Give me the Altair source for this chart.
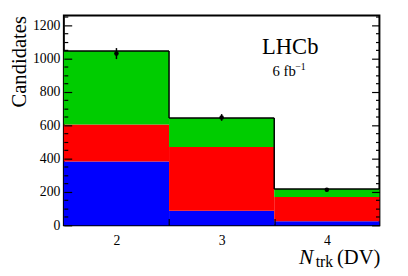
import altair as alt
import pandas as pd

# bins
centers = [2, 3, 4]
lo_edges = [1.5, 2.5, 3.5]
hi_edges = [2.5, 3.5, 4.5]
# stacked components (bottom -> top)
blue_vals = [383, 88, 24]
red_vals = [222, 382, 146]
green_vals = [440, 173, 48]
# data points
data_vals = [1030, 647, 213]
data_err = [33, 20, 10]

y_major = [0, 200, 400, 600, 800, 1000, 1200]
y_minor = [v for v in range(0, 1260, 50) if v % 200 != 0]
x_ticks = [2.5, 3.5]

W, H = 322, 214
FONT = "Liberation Serif"

rows = []
for i in range(3):
    b0 = 0
    for name, vals in [("blue", blue_vals), ("red", red_vals), ("green", green_vals)]:
        rows.append(dict(lo=lo_edges[i], hi=hi_edges[i], y0=b0, y1=b0 + vals[i], comp=name))
        b0 += vals[i]
bars = pd.DataFrame(rows)
totals = [blue_vals[i] + red_vals[i] + green_vals[i] for i in range(3)]

xs = alt.Scale(domain=[1.5, 4.5], nice=False, zero=False)
ys = alt.Scale(domain=[0, 1258], nice=False)


def tick_axis(orient, values, size, labels=False, **kw):
    return alt.Axis(orient=orient, values=values, tickSize=size, offset=-size, labels=labels,
                    domain=False, grid=False, tickColor="black", tickWidth=1.2, zindex=2,
                    labelOverlap=False, **kw)


rect = alt.Chart(bars).mark_rect(stroke=None).encode(
    x=alt.X("lo:Q", scale=xs, axis=alt.Axis(orient="bottom", values=centers, format="d", ticks=False,
                                           domain=False, grid=False, labelPadding=9, labelFontSize=14,
                                           title=None, labelOverlap=False, zindex=2)),
    x2="hi:Q",
    y=alt.Y("y0:Q", scale=ys, axis=tick_axis("left", y_major, 8, labels=True, format="d",
                                             labelPadding=4, labelFontSize=14,
                                             title="Candidates", titleFontSize=21, titleFontWeight="normal",
                                             titleAngle=270, titleAlign="right", titleBaseline="alphabetic",
                                             titleX=-47, titleY=0)),
    y2="y1:Q",
    color=alt.Color("comp:N", scale=alt.Scale(domain=["blue", "red", "green"],
                                              range=["#0000ff", "#ff0000", "#00cc00"]), legend=None),
)

tot_df = pd.DataFrame(dict(lo=lo_edges, hi=hi_edges, tot=totals))
hrules = alt.Chart(tot_df).mark_rule(color="black", strokeWidth=1.5).encode(
    x=alt.X("lo:Q", scale=xs, axis=tick_axis("bottom", x_ticks, 7, title=None)),
    x2="hi:Q",
    y=alt.Y("tot:Q", scale=ys, axis=tick_axis("left", y_minor, 4, title=None)))
vdf = pd.DataFrame(dict(e=hi_edges[:2], a=totals[:2], b=totals[1:]))
vrules = alt.Chart(vdf).mark_rule(color="black", strokeWidth=1.5).encode(
    x=alt.X("e:Q", scale=xs, axis=None),
    y=alt.Y("a:Q", scale=ys, axis=tick_axis("right", y_major, 8, title=None)),
    y2="b:Q")

pts_df = pd.DataFrame(dict(x=centers, y=data_vals, lo=[v - e for v, e in zip(data_vals, data_err)],
                           hi=[v + e for v, e in zip(data_vals, data_err)]))
err = alt.Chart(pts_df).mark_rule(color="black", strokeWidth=1.5).encode(
    x=alt.X("x:Q", scale=xs, axis=None),
    y=alt.Y("lo:Q", scale=ys, axis=tick_axis("right", y_minor, 4, title=None)),
    y2="hi:Q")
pts = alt.Chart(pts_df).mark_point(filled=True, color="black", size=22, opacity=1).encode(
    x=alt.X("x:Q", scale=xs, axis=None), y=alt.Y("y:Q", scale=ys, axis=None))


def label(txt, size, x, y, align="left", style="normal"):
    return alt.Chart(pd.DataFrame(dict(t=[txt]))).mark_text(
        font=FONT, fontSize=size, fontStyle=style, color="black", align=align, baseline="alphabetic"
    ).encode(text="t:N", x=alt.value(x), y=alt.value(y))


lhcb = label("LHCb", 23, 231, 39, align="center")
lum1 = label("6 fb", 15, 213, 62)
lum2 = label("−1", 10, 236, 56)
xt1 = label("N", 22, 240, 253, style="italic")
xt2 = label("trk", 16, 257, 257)
xt3 = label("(DV)", 21, W + 1, 253, align="right")

chart = alt.layer(rect, hrules, vrules, err, pts, lhcb, lum1, lum2, xt1, xt2, xt3).resolve_axis(
    x="independent", y="independent"
).properties(
    width=W, height=H, autosize="none",
    padding={"left": 57, "top": 5, "right": 21, "bottom": 49},
    background="white",
).configure_view(stroke="black", strokeWidth=2).configure_axis(
    labelFont=FONT, titleFont=FONT, labelColor="black", titleColor="black"
)

chart.save("out.html", embed_options={"renderer": "svg", "actions": False})
